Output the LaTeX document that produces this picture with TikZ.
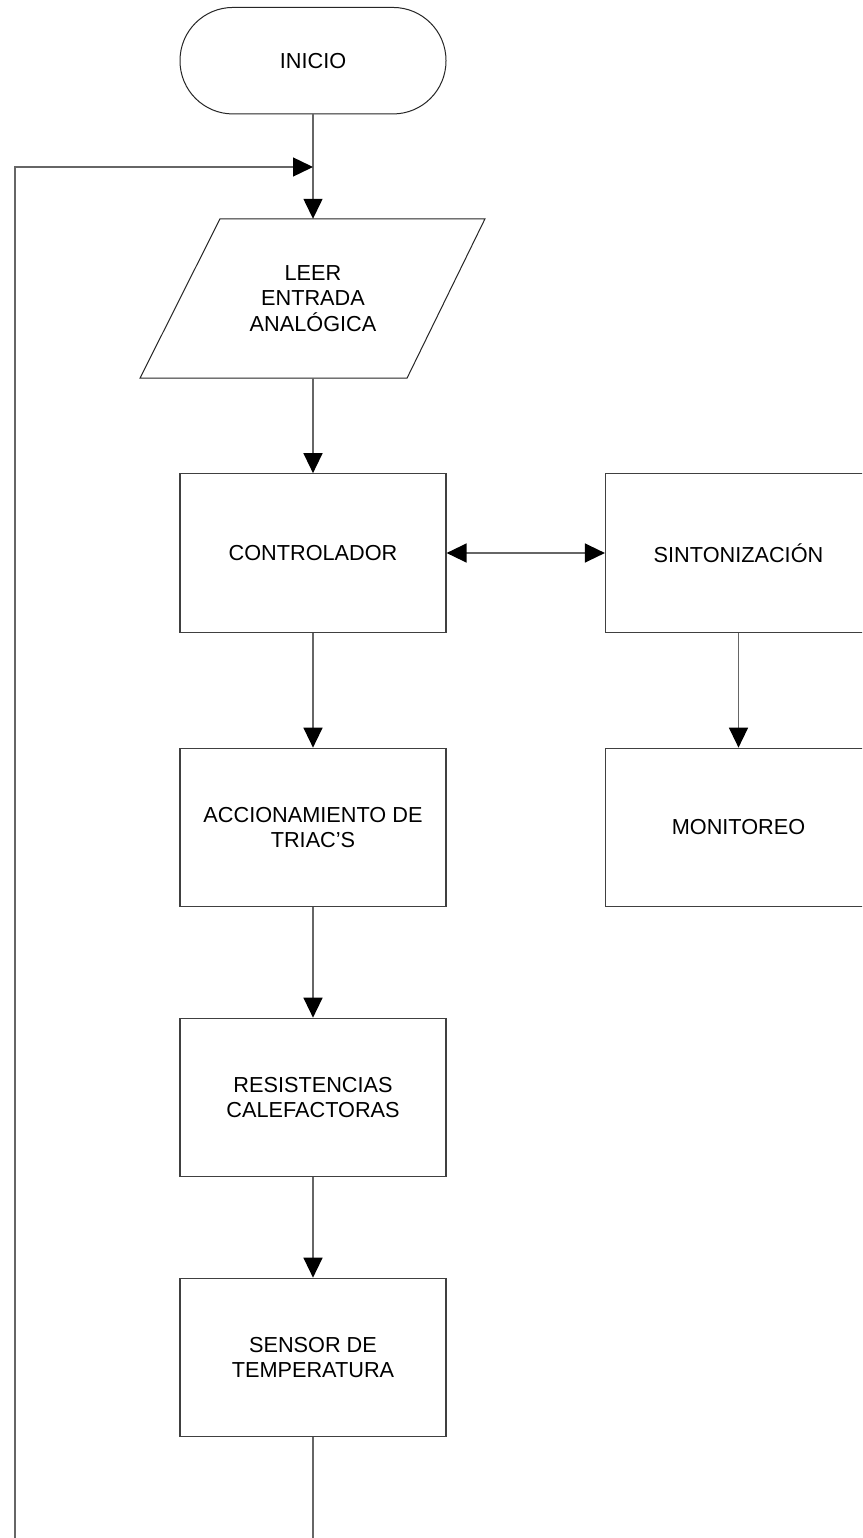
\documentclass[tikz,border=0pt]{standalone}
\usepackage{fontspec}
\setmainfont{Liberation Sans}
\usetikzlibrary{arrows.meta}
\begin{document}
\begin{tikzpicture}[x=1pt,y=-1pt,
  every node/.style={font=\fontsize{21.7}{25.7}\selectfont, align=center, inner sep=0pt},
  procbox/.style={draw=black!75, line width=1.2pt, minimum width=266pt, minimum height=158.5pt},
  conn/.style={draw=black!60, line width=1.4pt},
  tip/.style={-{Triangle[length=20pt,width=19pt,color=black]}},
  dtip/.style={{Triangle[length=20pt,width=19pt,color=black]}-{Triangle[length=20pt,width=19pt,color=black]}}
]
\clip (0,0) rectangle (862,1538);
\fill[white] (0,0) rectangle (862,1538);

\node[draw=black!85, line width=1pt, rounded corners=53pt, minimum width=266pt, minimum height=106.5pt] (inicio) at (313,60.7) {INICIO};

\node[minimum width=180pt, minimum height=159pt] (leer) at (313,298.5) {LEER\\ENTRADA\\ANALÓGICA};
\draw[draw=black!85, line width=1pt]
  ([xshift=-93pt]leer.north) -- ([xshift=172pt]leer.north) --
  ([xshift=94pt]leer.south) -- ([xshift=-173pt]leer.south) -- cycle;

\node[procbox] (ctrl) at (313,553) {CONTROLADOR};
\node[procbox] (sint) at (738.5,553) {SINTONIZACIÓN};
\node[procbox] (acc) at (313,827.5) {ACCIONAMIENTO DE\\TRIAC’S};
\node[procbox] (mon) at (738.5,827.5) {MONITOREO};
\node[procbox] (res) at (313,1097.5) {RESISTENCIAS\\CALEFACTORAS};
\node[procbox] (sens) at (313,1357.5) {SENSOR DE\\TEMPERATURA};

\coordinate (join) at (313,167);
\coordinate (loopTop) at (15,167);
\coordinate (loopBot) at (15,1550);
\coordinate (sensBot) at (313,1550);

\draw[conn, tip] (inicio.south) -- (leer.north);
\draw[conn, tip] (loopBot) -- (loopTop) -- (join);
\draw[conn, tip] (leer.south) -- (ctrl.north);
\draw[conn, dtip] (ctrl.east) -- (sint.west);
\draw[conn, tip] (sint.south) -- (mon.north);
\draw[conn, tip] (ctrl.south) -- (acc.north);
\draw[conn, tip] (acc.south) -- (res.north);
\draw[conn, tip] (res.south) -- (sens.north);
\draw[conn] (sens.south) -- (sensBot);
\end{tikzpicture}
\end{document}
